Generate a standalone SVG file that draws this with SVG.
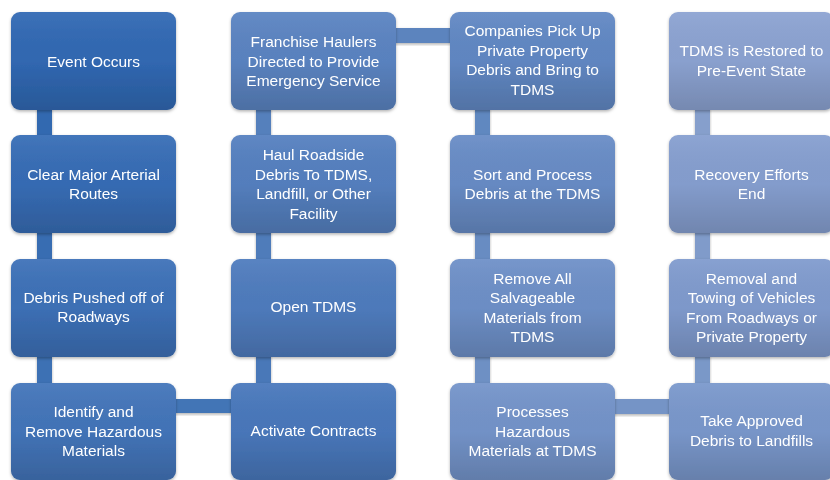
<svg xmlns="http://www.w3.org/2000/svg" width="830" height="480" viewBox="0 0 830 480">
  <defs>
    <linearGradient id="shade" x1="0" y1="0" x2="0" y2="1">
      <stop offset="0" stop-color="#ffffff" stop-opacity="0.06"/>
      <stop offset="0.5" stop-color="#000000" stop-opacity="0.02"/>
      <stop offset="1" stop-color="#000000" stop-opacity="0.16"/>
    </linearGradient>
    <linearGradient id="barshade" x1="0" y1="0" x2="0" y2="1">
      <stop offset="0" stop-color="#ffffff" stop-opacity="0.08"/>
      <stop offset="1" stop-color="#000000" stop-opacity="0.15"/>
    </linearGradient>
    <filter id="sh" x="-10%" y="-10%" width="120%" height="125%">
      <feDropShadow dx="0" dy="1.5" stdDeviation="1.5" flood-color="#000" flood-opacity="0.3"/>
    </filter>
  </defs>
  <style>
    .box { filter: url(#sh); }
    .ov { fill: url(#shade); }
    .t { font-family: "Liberation Sans", Arial, sans-serif; font-size: 15.5px; fill: #ffffff; text-anchor: middle; }
    .bar { filter: url(#sh); }
  </style>
  <rect width="830" height="480" fill="#ffffff"/>

  <g id="connectors">
    <rect class="bar" x="37" y="108" width="15" height="29" fill="#3169B0"/>
    <rect class="bar" x="37" y="231" width="15" height="30" fill="#376DB2"/>
    <rect class="bar" x="37" y="355" width="15" height="30" fill="#3D71B4"/>
    <rect class="bar" x="174" y="399" width="59" height="14" fill="#4375B6"/>
    <rect class="bar" x="256" y="355" width="15" height="30" fill="#4978B8"/>
    <rect class="bar" x="256" y="231" width="15" height="30" fill="#4F7CBA"/>
    <rect class="bar" x="256" y="108" width="15" height="29" fill="#5580BC"/>
    <rect class="bar" x="394" y="28" width="58" height="15" fill="#5B84BE"/>
    <rect class="bar" x="475" y="108" width="15" height="29" fill="#6188C0"/>
    <rect class="bar" x="475" y="231" width="15" height="30" fill="#688CC2"/>
    <rect class="bar" x="475" y="355" width="15" height="30" fill="#6E90C4"/>
    <rect class="bar" x="612" y="399" width="59" height="15" fill="#7494C6"/>
    <rect class="bar" x="695" y="355" width="15" height="30" fill="#7A98C8"/>
    <rect class="bar" x="695" y="231" width="15" height="30" fill="#809BCA"/>
    <rect class="bar" x="695" y="108" width="15" height="29" fill="#869FCC"/>
  </g>

  <g id="n1" class="box">
    <rect x="11" y="12" width="165" height="98" rx="9" fill="#3169B4"/>
    <rect x="11" y="12" width="165" height="98" rx="9" class="ov"/>
    <text class="t" x="93.5" y="66.5">Event Occurs</text>
  </g>
  <g id="n2" class="box">
    <rect x="11" y="135" width="165" height="98" rx="9" fill="#376DB6"/>
    <rect x="11" y="135" width="165" height="98" rx="9" class="ov"/>
    <text class="t" x="93.5" y="179.5">Clear Major Arterial</text>
    <text class="t" x="93.5" y="199">Routes</text>
  </g>
  <g id="n3" class="box">
    <rect x="11" y="259" width="165" height="98" rx="9" fill="#3D71B8"/>
    <rect x="11" y="259" width="165" height="98" rx="9" class="ov"/>
    <text class="t" x="93.5" y="302.5">Debris Pushed off of</text>
    <text class="t" x="93.5" y="322">Roadways</text>
  </g>
  <g id="n4" class="box">
    <rect x="11" y="383" width="165" height="97" rx="9" fill="#4375BA"/>
    <rect x="11" y="383" width="165" height="97" rx="9" class="ov"/>
    <text class="t" x="93.5" y="417">Identify and</text>
    <text class="t" x="93.5" y="436.5">Remove Hazardous</text>
    <text class="t" x="93.5" y="456">Materials</text>
  </g>
  <g id="n5" class="box">
    <rect x="231" y="383" width="165" height="97" rx="9" fill="#4978BC"/>
    <rect x="231" y="383" width="165" height="97" rx="9" class="ov"/>
    <text class="t" x="313.5" y="436">Activate Contracts</text>
  </g>
  <g id="n6" class="box">
    <rect x="231" y="259" width="165" height="98" rx="9" fill="#4F7CBE"/>
    <rect x="231" y="259" width="165" height="98" rx="9" class="ov"/>
    <text class="t" x="313.5" y="312">Open TDMS</text>
  </g>
  <g id="n7" class="box">
    <rect x="231" y="135" width="165" height="98" rx="9" fill="#5580C0"/>
    <rect x="231" y="135" width="165" height="98" rx="9" class="ov"/>
    <text class="t" x="313.5" y="160">Haul Roadside</text>
    <text class="t" x="313.5" y="179.5">Debris To TDMS,</text>
    <text class="t" x="313.5" y="199">Landfill, or Other</text>
    <text class="t" x="313.5" y="218.5">Facility</text>
  </g>
  <g id="n8" class="box">
    <rect x="231" y="12" width="165" height="98" rx="9" fill="#5B84C2"/>
    <rect x="231" y="12" width="165" height="98" rx="9" class="ov"/>
    <text class="t" x="313.5" y="47">Franchise Haulers</text>
    <text class="t" x="313.5" y="66.5">Directed to Provide</text>
    <text class="t" x="313.5" y="86">Emergency Service</text>
  </g>
  <g id="n9" class="box">
    <rect x="450" y="12" width="165" height="98" rx="9" fill="#6188C4"/>
    <rect x="450" y="12" width="165" height="98" rx="9" class="ov"/>
    <text class="t" x="532.5" y="36">Companies Pick Up</text>
    <text class="t" x="532.5" y="55.5">Private Property</text>
    <text class="t" x="532.5" y="75">Debris and Bring to</text>
    <text class="t" x="532.5" y="94.5">TDMS</text>
  </g>
  <g id="n10" class="box">
    <rect x="450" y="135" width="165" height="98" rx="9" fill="#688CC6"/>
    <rect x="450" y="135" width="165" height="98" rx="9" class="ov"/>
    <text class="t" x="532.5" y="179.5">Sort and Process</text>
    <text class="t" x="532.5" y="199">Debris at the TDMS</text>
  </g>
  <g id="n11" class="box">
    <rect x="450" y="259" width="165" height="98" rx="9" fill="#6E90C8"/>
    <rect x="450" y="259" width="165" height="98" rx="9" class="ov"/>
    <text class="t" x="532.5" y="283.5">Remove All</text>
    <text class="t" x="532.5" y="303">Salvageable</text>
    <text class="t" x="532.5" y="322.5">Materials from</text>
    <text class="t" x="532.5" y="342">TDMS</text>
  </g>
  <g id="n12" class="box">
    <rect x="450" y="383" width="165" height="97" rx="9" fill="#7494CA"/>
    <rect x="450" y="383" width="165" height="97" rx="9" class="ov"/>
    <text class="t" x="532.5" y="417">Processes</text>
    <text class="t" x="532.5" y="436.5">Hazardous</text>
    <text class="t" x="532.5" y="456">Materials at TDMS</text>
  </g>
  <g id="n13" class="box">
    <rect x="669" y="383" width="165" height="97" rx="9" fill="#7A98CC"/>
    <rect x="669" y="383" width="165" height="97" rx="9" class="ov"/>
    <text class="t" x="751.5" y="426">Take Approved</text>
    <text class="t" x="751.5" y="445.5">Debris to Landfills</text>
  </g>
  <g id="n14" class="box">
    <rect x="669" y="259" width="165" height="98" rx="9" fill="#809BCE"/>
    <rect x="669" y="259" width="165" height="98" rx="9" class="ov"/>
    <text class="t" x="751.5" y="283.5">Removal and</text>
    <text class="t" x="751.5" y="303">Towing of Vehicles</text>
    <text class="t" x="751.5" y="322.5">From Roadways or</text>
    <text class="t" x="751.5" y="342">Private Property</text>
  </g>
  <g id="n15" class="box">
    <rect x="669" y="135" width="165" height="98" rx="9" fill="#869FD0"/>
    <rect x="669" y="135" width="165" height="98" rx="9" class="ov"/>
    <text class="t" x="751.5" y="179.5">Recovery Efforts</text>
    <text class="t" x="751.5" y="199">End</text>
  </g>
  <g id="n16" class="box">
    <rect x="669" y="12" width="165" height="98" rx="9" fill="#8CA3D2"/>
    <rect x="669" y="12" width="165" height="98" rx="9" class="ov"/>
    <text class="t" x="751.5" y="56">TDMS is Restored to</text>
    <text class="t" x="751.5" y="75.5">Pre-Event State</text>
  </g>
</svg>
